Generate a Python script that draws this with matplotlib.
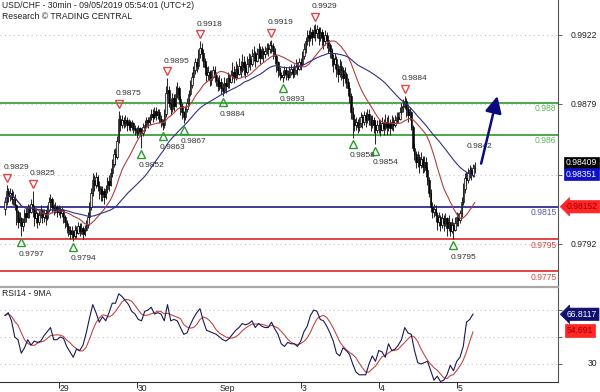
import matplotlib
matplotlib.use("Agg")
import matplotlib.pyplot as plt
import numpy as np
import pandas as pd
from matplotlib import transforms

plt.rcParams['font.family'] = ['Liberation Sans', 'DejaVu Sans']

# ---------------- data (prices in pips, 30-min bars) ----------------
first_open = 9814
close_pips = [
    9818, 9825, 9822, 9824, 9820, 9821, 9816, 9812, 9806, 9808,
    9803, 9806, 9811, 9809, 9815, 9812, 9817, 9814, 9808, 9811,
    9806, 9810, 9813, 9809, 9811, 9808, 9813, 9818, 9820, 9815,
    9813, 9815, 9812, 9814, 9811, 9813, 9809, 9806, 9803, 9801,
    9798, 9800, 9797, 9801, 9799, 9803, 9800, 9802, 9798, 9801,
    9804, 9809, 9815, 9824, 9832, 9829, 9834, 9828, 9826, 9823,
    9825, 9821, 9826, 9831, 9829, 9836, 9842, 9848, 9846, 9856,
    9870, 9866, 9869, 9867, 9869, 9866, 9868, 9865, 9867, 9864,
    9863, 9861, 9864, 9862, 9861, 9865, 9866, 9869, 9868, 9871,
    9873, 9871, 9875, 9872, 9874, 9870, 9868, 9866, 9873, 9886,
    9888, 9880, 9876, 9883, 9878, 9885, 9889, 9882, 9878, 9874,
    9871, 9876, 9880, 9885, 9891, 9896, 9900, 9905, 9903, 9910,
    9914, 9911, 9906, 9902, 9897, 9899, 9894, 9896, 9900, 9897,
    9894, 9890, 9893, 9889, 9887, 9892, 9890, 9895, 9893, 9897,
    9899, 9895, 9901, 9898, 9903, 9900, 9905, 9902, 9899, 9904,
    9907, 9904, 9909, 9911, 9906, 9910, 9913, 9908, 9912, 9910,
    9912, 9914, 9913, 9916, 9915, 9912, 9909, 9905, 9900, 9897,
    9896, 9897, 9900, 9898, 9896, 9899, 9901, 9898, 9900, 9903,
    9901, 9905, 9904, 9909, 9913, 9918, 9922, 9920, 9924, 9921,
    9925, 9923, 9926, 9920, 9924, 9921, 9918, 9922, 9919, 9916,
    9912, 9908, 9904, 9907, 9901, 9898, 9903, 9900, 9895, 9898,
    9893, 9889, 9884, 9874, 9870, 9866, 9868, 9865, 9867, 9871,
    9868, 9872, 9869, 9873, 9870, 9866, 9869, 9866, 9863, 9866,
    9866, 9863, 9867, 9864, 9868, 9865, 9867, 9864, 9868, 9866,
    9869, 9871, 9870, 9874, 9877, 9878, 9881, 9876, 9872, 9874,
    9865, 9852, 9848, 9843, 9846, 9841, 9845, 9840, 9843, 9838,
    9832, 9824, 9815, 9812, 9814, 9810, 9806, 9809, 9804, 9808,
    9805, 9808, 9802, 9806, 9800, 9804, 9801, 9805, 9809, 9807,
    9811, 9818, 9826, 9833, 9832, 9836, 9838, 9835, 9839, 9841,
]
high_pips = [
    9821, 9829, 9827, 9827, 9826, 9825, 9823, 9817, 9813, 9812,
    9809, 9808, 9814, 9815, 9817, 9816, 9820, 9825, 9816, 9814,
    9812, 9813, 9816, 9814, 9814, 9813, 9816, 9821, 9823, 9821,
    9817, 9818, 9816, 9816, 9815, 9815, 9814, 9810, 9807, 9805,
    9803, 9803, 9801, 9804, 9803, 9806, 9805, 9805, 9803, 9804,
    9807, 9812, 9818, 9827, 9836, 9835, 9837, 9835, 9831, 9828,
    9828, 9827, 9829, 9834, 9835, 9839, 9845, 9851, 9852, 9859,
    9875, 9872, 9872, 9871, 9872, 9871, 9870, 9869, 9869, 9868,
    9866, 9865, 9866, 9865, 9864, 9867, 9869, 9871, 9871, 9873,
    9876, 9876, 9877, 9877, 9876, 9876, 9872, 9870, 9876, 9890,
    9895, 9890, 9883, 9886, 9885, 9890, 9893, 9890, 9884, 9880,
    9875, 9878, 9883, 9888, 9894, 9899, 9903, 9908, 9908, 9913,
    9918, 9917, 9913, 9908, 9904, 9903, 9900, 9900, 9903, 9903,
    9899, 9896, 9897, 9895, 9892, 9896, 9895, 9899, 9898, 9900,
    9905, 9903, 9906, 9904, 9908, 9906, 9910, 9909, 9906, 9909,
    9911, 9910, 9913, 9915, 9912, 9914, 9917, 9915, 9915, 9914,
    9915, 9917, 9917, 9918, 9919, 9917, 9914, 9910, 9906, 9902,
    9899, 9900, 9903, 9902, 9900, 9903, 9904, 9903, 9904, 9907,
    9905, 9908, 9908, 9912, 9917, 9921, 9925, 9925, 9927, 9926,
    9928, 9929, 9928, 9927, 9927, 9926, 9924, 9925, 9924, 9922,
    9917, 9914, 9910, 9911, 9909, 9904, 9907, 9906, 9902, 9902,
    9899, 9895, 9891, 9886, 9877, 9873, 9871, 9870, 9871, 9874,
    9873, 9875, 9874, 9876, 9876, 9872, 9872, 9871, 9869, 9869,
    9870, 9869, 9871, 9870, 9873, 9871, 9872, 9870, 9872, 9871,
    9872, 9874, 9874, 9877, 9880, 9882, 9884, 9883, 9879, 9877,
    9875, 9866, 9855, 9850, 9850, 9848, 9849, 9847, 9847, 9846,
    9840, 9834, 9826, 9818, 9817, 9816, 9812, 9812, 9810, 9811,
    9810, 9811, 9809, 9810, 9806, 9808, 9806, 9809, 9812, 9811,
    9813, 9821, 9830, 9836, 9837, 9839, 9841, 9840, 9842, 9843,
]
low_pips = [
    9810, 9816, 9818, 9819, 9817, 9816, 9813, 9804, 9802, 9803,
    9797, 9800, 9804, 9806, 9808, 9808, 9811, 9809, 9803, 9805,
    9802, 9804, 9808, 9805, 9806, 9804, 9807, 9812, 9815, 9811,
    9810, 9811, 9809, 9810, 9808, 9809, 9805, 9802, 9799, 9797,
    9795, 9796, 9794, 9796, 9796, 9798, 9797, 9798, 9795, 9797,
    9800, 9802, 9807, 9813, 9822, 9825, 9827, 9825, 9820, 9819,
    9819, 9817, 9820, 9824, 9825, 9828, 9834, 9840, 9841, 9845,
    9855, 9862, 9864, 9864, 9865, 9862, 9863, 9862, 9863, 9861,
    9860, 9858, 9860, 9859, 9852, 9859, 9862, 9865, 9864, 9866,
    9869, 9868, 9870, 9869, 9870, 9867, 9865, 9863, 9864, 9871,
    9882, 9877, 9872, 9874, 9875, 9877, 9883, 9879, 9872, 9870,
    9867, 9869, 9874, 9878, 9884, 9889, 9894, 9898, 9899, 9901,
    9908, 9906, 9902, 9897, 9893, 9894, 9890, 9891, 9895, 9893,
    9890, 9887, 9888, 9885, 9884, 9886, 9886, 9889, 9889, 9892,
    9894, 9892, 9894, 9895, 9897, 9896, 9899, 9897, 9895, 9898,
    9902, 9900, 9903, 9906, 9902, 9905, 9908, 9904, 9907, 9905,
    9908, 9910, 9909, 9911, 9911, 9907, 9904, 9899, 9896, 9894,
    9895, 9893, 9895, 9894, 9894, 9895, 9897, 9895, 9896, 9898,
    9897, 9900, 9900, 9903, 9907, 9911, 9916, 9915, 9918, 9916,
    9920, 9918, 9920, 9916, 9918, 9915, 9913, 9916, 9914, 9911,
    9908, 9903, 9899, 9901, 9896, 9893, 9896, 9894, 9890, 9892,
    9889, 9884, 9880, 9870, 9858, 9862, 9863, 9861, 9862, 9865,
    9864, 9866, 9865, 9867, 9866, 9862, 9864, 9861, 9854, 9861,
    9861, 9859, 9862, 9860, 9863, 9860, 9862, 9860, 9863, 9862,
    9865, 9867, 9867, 9869, 9873, 9874, 9876, 9871, 9868, 9869,
    9863, 9850, 9844, 9839, 9840, 9836, 9839, 9836, 9837, 9834,
    9829, 9821, 9812, 9808, 9809, 9806, 9801, 9803, 9800, 9802,
    9800, 9803, 9797, 9800, 9797, 9799, 9795, 9800, 9803, 9803,
    9805, 9809, 9816, 9824, 9828, 9830, 9833, 9832, 9834, 9836,
]
# RSI(14) read every second bar
rsi_values = [
    66, 68, 62, 50, 48, 38, 42, 48, 44, 47,
    46, 47, 51, 54, 57, 48, 48, 50, 49, 43,
    39, 35, 41, 40, 44, 53, 64, 74, 68, 61,
    65, 62, 68, 75, 75, 82, 80, 77, 74, 69,
    67, 63, 62, 69, 70, 72, 67, 68, 67, 62,
    74, 62, 63, 62, 57, 52, 53, 59, 64, 68,
    71, 62, 55, 54, 53, 52, 50, 48, 47, 49,
    52, 55, 57, 60, 59, 60, 62, 57, 60, 58,
    57, 57, 61, 56, 52, 45, 43, 46, 45, 45,
    43, 47, 54, 58, 66, 70, 69, 63, 62, 58,
    53, 47, 38, 36, 42, 40, 37, 30, 24, 22,
    22, 22, 30, 36, 32, 40, 39, 35, 45, 40,
    41, 44, 48, 57, 53, 52, 40, 31, 30, 31,
    32, 25, 18, 21, 17, 18, 22, 29, 25, 32,
    35, 43, 61, 63, 67,
]

levels = [0.9880, 0.9860, 0.9815, 0.9795, 0.9775]
level_labels = ['0.988', '0.986', '0.9815', '0.9795', '0.9775']

res_bars = [1, 17, 70, 100, 120, 164, 191, 246]
res_vals = [0.9829, 0.9825, 0.9875, 0.9895, 0.9918, 0.9919, 0.9929, 0.9884]
sup_bars = [10, 42, 84, 97, 110, 134, 171, 214, 228, 276]
sup_vals = [0.9797, 0.9794, 0.9852, 0.9863, 0.9867, 0.9884, 0.9893, 0.9858, 0.9854, 0.9795]

arrow_from = (293, 0.9842)
arrow_to = (303, 0.9884)

price_ticks = [0.9922, 0.9879, 0.9835, 0.9792]
price_tick_shown = [True, True, False, True]     # 0.9835 is hidden under the value boxes
rsi_ticks = [30, 50, 70]
rsi_tick_shown = [True, False, False]            # 50 / 70 hidden under the value boxes
day_pos = [33, 81, 131, 182, 230, 278]
day_lab = ['29', '30', 'Sep', '3', '4', '5']

last_price, ma_slow_val, ma_fast_val = '0.98409', '0.98351', '0.98152'
rsi_last, rsi_ma_last = '66.8117', '54.691'

# ---------------- figure ----------------
W, H = 600, 392
fig = plt.figure(figsize=(6, 3.92), dpi=100)
def fx(px): return px / W
def fy(py): return 1 - py / H

ax = fig.add_axes([0, fy(286), fx(558), 286 / H])
axr = fig.add_axes([0, fy(382), fx(558), (382 - 287) / H])

xl = (-5 / 1.625, 553 / 1.625)
for a in (ax, axr):
    a.set_xlim(*xl)
    a.spines['left'].set_visible(False)
    a.spines['right'].set_color('#555555')
    a.spines['right'].set_linewidth(0.8)
    a.set_facecolor('white')
ax.spines['top'].set_visible(False)
ax.spines['bottom'].set_visible(False)
axr.spines['top'].set_color('#a8a8a8')
axr.spines['top'].set_linewidth(1.6)
axr.spines['bottom'].set_color('#333333')
axr.spines['bottom'].set_linewidth(0.8)

ax.set_ylim(0.9922 - 251 / 16080, 0.9922 + 35 / 16080)
axr.set_ylim(50 - 45 / 1.35, 50 + 50 / 1.35)

c = np.array(close_pips) / 1e4
h = np.array(high_pips) / 1e4
l = np.array(low_pips) / 1e4
o = np.concatenate([[first_open / 1e4], c[:-1]])
idx = np.arange(len(c))

# grid
ax.set_yticks(price_ticks)
ax.yaxis.tick_right()
ax.set_yticklabels([])
ax.tick_params(axis='y', length=3, width=0.6, color='#444444')
ax.set_xticks([])
ax.grid(axis='y', linestyle=(0, (1, 3)), color='#c4c4c4', lw=0.8)
axr.set_yticks(rsi_ticks)
axr.yaxis.tick_right()
axr.set_yticklabels([])
axr.tick_params(axis='y', length=3, width=0.6, color='#444444')
axr.grid(axis='y', linestyle=(0, (1, 3)), color='#c4c4c4', lw=0.8)

# levels
lev_colors = ['#2f9a2f', '#2f9a2f', '#1c1c8c', '#e02424', '#e02424']
lab_colors = ['#5cb85c', '#5cb85c', '#5a5aa8', '#d04848', '#d04848']
for v, lab, lc, tc in zip(levels, level_labels, lev_colors, lab_colors):
    ax.axhline(v, color=lc, lw=1.2, zorder=2)
    ax.annotate(lab, xy=(1, v), xycoords=('axes fraction', 'data'),
                xytext=(-1, -1), textcoords='offset points',
                ha='right', va='top', fontsize=6.2, color=tc)

# candles
ax.vlines(idx, l, h, color='#2a2a2a', lw=0.75, zorder=3)
up = c >= o
ax.bar(idx[up], np.maximum(c - o, 0.00002)[up], bottom=o[up], width=0.9,
       facecolor='#e8e8e8', edgecolor='black', linewidth=0.5, zorder=4)
ax.bar(idx[~up], np.maximum(o - c, 0.00002)[~up], bottom=c[~up], width=0.9,
       facecolor='black', edgecolor='black', linewidth=0.4, zorder=4)

# moving averages
s = pd.Series(c)
ax.plot(idx, s.rolling(20, min_periods=1).mean(), color='#b04040', lw=0.8, zorder=5)
ax.plot(idx, s.rolling(50, min_periods=1).mean(), color='#303088', lw=0.8, zorder=5)

# markers
t_up = ax.transData + transforms.ScaledTranslation(0, 5 / 72, fig.dpi_scale_trans)
t_dn = ax.transData + transforms.ScaledTranslation(0, -4.5 / 72, fig.dpi_scale_trans)
ax.plot(res_bars, res_vals, 'v', transform=t_up, ms=6, mfc='none', mec='#e04848', mew=1.0, zorder=6)
ax.plot(sup_bars, sup_vals, '^', transform=t_dn, ms=6, mfc='none', mec='#2f9a2f', mew=1.0, zorder=6)
for b, v in zip(res_bars, res_vals):
    ax.annotate(f'{v:.4f}', xy=(b, v), xytext=(-2.5, 12.5), textcoords='offset points',
                ha='left', va='center', fontsize=6, color='#333333', zorder=7)
for b, v in zip(sup_bars, sup_vals):
    ax.annotate(f'{v:.4f}', xy=(b, v), xytext=(-2, -13), textcoords='offset points',
                ha='left', va='center', fontsize=6, color='#333333', zorder=7)

# forecast arrow
ax.annotate('', xy=arrow_to, xytext=arrow_from,
            arrowprops=dict(arrowstyle='-|>,head_length=1.0,head_width=0.5', color='#0a0a80',
                            lw=1.8, shrinkA=0, shrinkB=0, mutation_scale=10), zorder=8)
ax.annotate(f'{arrow_from[1]:.4f}', xy=arrow_from, xytext=(-10.5, 12), textcoords='offset points',
            ha='left', va='center', fontsize=6, color='#333333', zorder=7)

# right tick labels
tr_main = transforms.blended_transform_factory(fig.transFigure, ax.transData)
for v, shown in zip(price_ticks, price_tick_shown):
    if shown:
        ax.text(fx(597), v, f'{v:.4f}', transform=tr_main, ha='right', va='center',
                fontsize=6.2, color='#222222', clip_on=False, zorder=1)
tr_rsi = transforms.blended_transform_factory(fig.transFigure, axr.transData)
for v, shown in zip(rsi_ticks, rsi_tick_shown):
    if shown:
        axr.text(fx(597), v, f'{v}', transform=tr_rsi, ha='right', va='center',
                 fontsize=6.2, color='#222222', clip_on=False, zorder=1)

# value boxes
def box(a, val, txt, fc, tcol, style='square,pad=0.2', xpx=566, dy_px=0):
    tr = transforms.blended_transform_factory(fig.transFigure, a.transData) + \
        transforms.ScaledTranslation(0, dy_px / 100, fig.dpi_scale_trans)
    a.text(fx(xpx), val, txt, transform=tr, ha='left', va='center', fontsize=6.2,
           color=tcol, clip_on=False, zorder=20,
           bbox=dict(boxstyle=style, fc=fc, ec=fc, lw=0.5))

box(ax, float(last_price), last_price, 'black', 'white', dy_px=2.5)
box(ax, float(ma_slow_val), ma_slow_val, '#1010c8', 'white', dy_px=0.5)
box(ax, float(ma_fast_val), ma_fast_val, '#ff2626', '#a00000', 'larrow,pad=0.2', 567)
box(axr, float(rsi_last), rsi_last, '#101070', 'white', 'larrow,pad=0.2', 567)
box(axr, float(rsi_ma_last), rsi_ma_last, '#ff2626', '#a00000', 'square,pad=0.2', 567)

# RSI panel
ri = np.arange(0, 2 * len(rsi_values), 2)
rs = pd.Series(rsi_values, dtype=float)
axr.plot(ri, rs, color='#1a1a50', lw=0.8, zorder=4)
axr.plot(ri, rs.rolling(5, min_periods=1).mean(), color='#c04848', lw=0.8, zorder=3)

# x ticks & labels
tick_pos = [p for p, t in zip(day_pos, day_lab) if t != 'Sep']
axr.set_xticks(tick_pos)
axr.tick_params(axis='x', length=4, width=0.7, color='#333333', labelbottom=False)
for p, t in zip(day_pos, day_lab):
    axr.annotate(t, xy=(p, 0), xycoords=('data', 'axes fraction'), xytext=(1, -1.2),
                 textcoords='offset points', ha='left', va='top', fontsize=6.2,
                 color='#222222', annotation_clip=False)

# header texts
fig.text(fx(2), fy(6), 'USD/CHF - 30min - 09/05/2019 05:54:01 (UTC+2)', fontsize=6.2,
         va='center', ha='left', color='#222222')
fig.text(fx(2), fy(16.5), 'Research \u00a9 TRADING CENTRAL', fontsize=6.2,
         va='center', ha='left', color='#222222')
fig.text(fx(2), fy(294), 'RSI14 - 9MA', fontsize=6.2, va='center', ha='left', color='#222222')

fig.savefig('out.png', dpi=100)
